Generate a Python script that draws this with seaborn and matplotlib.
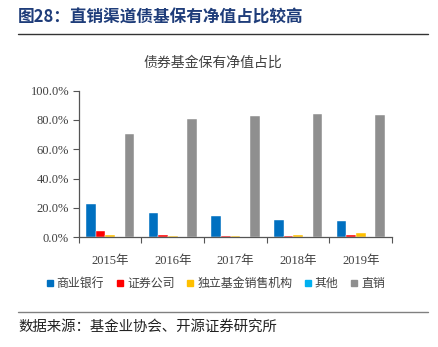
import matplotlib
matplotlib.use("Agg")
import matplotlib.pyplot as plt
from matplotlib.lines import Line2D
from matplotlib.ticker import FixedLocator, PercentFormatter
import seaborn as sns
import pandas as pd

# Share of bond-fund holdings by sales channel (%)
years = ["2015年", "2016年", "2017年", "2018年", "2019年"]
channels = ["商业银行", "证券公司", "独立基金销售机构", "其他", "直销"]
bank = [22.9, 16.6, 14.3, 11.8, 11.3]
broker = [4.3, 1.3, 0.7, 1.1, 1.8]
independent = [1.6, 0.8, 0.9, 1.6, 2.9]
other = [0.1, 0.1, 0.1, 0.1, 0.1]
direct = [70.5, 80.5, 83.0, 84.3, 83.4]
colors = ["#0070C0", "#FF0000", "#FFC000", "#00B0F0", "#8F8F8F"]

series = [bank, broker, independent, other, direct]
df = pd.DataFrame(
    [(y, c, v) for c, vals in zip(channels, series) for y, v in zip(years, vals)],
    columns=["year", "channel", "share"],
)

sns.set_theme(style="white")
serif = ["Liberation Serif", "Noto Sans CJK SC", "DejaVu Sans"]
cjk = ["Noto Sans CJK SC", "DejaVu Sans"]
plt.rcParams["font.family"] = cjk

fig = plt.figure(figsize=(4.38, 3.47), dpi=100)
ax = fig.add_axes([0.180, 0.316, 0.715, 0.423])

sns.barplot(
    data=df, x="year", y="share", hue="channel",
    order=years, hue_order=channels, palette=colors,
    width=0.77, ax=ax, legend=False, saturation=1,
    edgecolor="white", linewidth=0.3,
)

ax.set_ylim(0, 100)
ax.set_xlim(-0.5, len(years) - 0.5)
ax.yaxis.set_major_locator(FixedLocator([0, 20, 40, 60, 80, 100]))
ax.yaxis.set_major_formatter(PercentFormatter(decimals=1))
ax.set_xlabel("")
ax.set_ylabel("")

for s in ["top", "right"]:
    ax.spines[s].set_visible(False)
for s in ["left", "bottom"]:
    ax.spines[s].set_color("#555555")
    ax.spines[s].set_linewidth(0.9)

ax.tick_params(axis="y", which="major", left=True, length=4, width=0.8,
               color="#555555", pad=3, labelsize=9, labelcolor="#404040")
ax.tick_params(axis="x", which="major", bottom=False, pad=7, labelsize=9,
               labelcolor="#404040")
ax.xaxis.set_minor_locator(FixedLocator([i - 0.5 for i in range(len(years) + 1)]))
ax.tick_params(axis="x", which="minor", bottom=True, length=4, width=0.8,
               color="#555555", direction="out")
for lab in ax.get_yticklabels() + ax.get_xticklabels():
    lab.set_fontfamily(serif)

fig.text(213 / 438, 1 - 63 / 347, "债券基金保有净值占比", fontsize=10,
         color="#404040", ha="center", va="center")

# Legend
handles = [Line2D([], [], marker="s", linestyle="", markersize=5,
                  markerfacecolor=c, markeredgecolor=c) for c in colors]
fig.legend(handles, channels, loc="center", bbox_to_anchor=(0.492, 0.182),
           ncol=5, frameon=False, fontsize=8.6, handlelength=0.6,
           handletextpad=0.3, columnspacing=1.0, labelcolor="#404040")

# Header and footer
fig.text(18 / 438, 1 - 18 / 347, "图28：直销渠道债基保有净值占比较高",
         fontsize=12, fontweight="bold", color="#1F3D7A",
         va="center", ha="left")
fig.add_artist(Line2D([18 / 438, 428 / 438], [1 - 34 / 347, 1 - 34 / 347],
                      color="#333333", linewidth=1.0))
fig.add_artist(Line2D([18 / 438, 428 / 438], [1 - 312 / 347, 1 - 312 / 347],
                      color="#808080", linewidth=1.0))
fig.text(18 / 438, 1 - 327 / 347, "数据来源：基金业协会、开源证券研究所",
         fontsize=10.4, color="#222222", va="center", ha="left")

fig.savefig("out.png", dpi=100)
